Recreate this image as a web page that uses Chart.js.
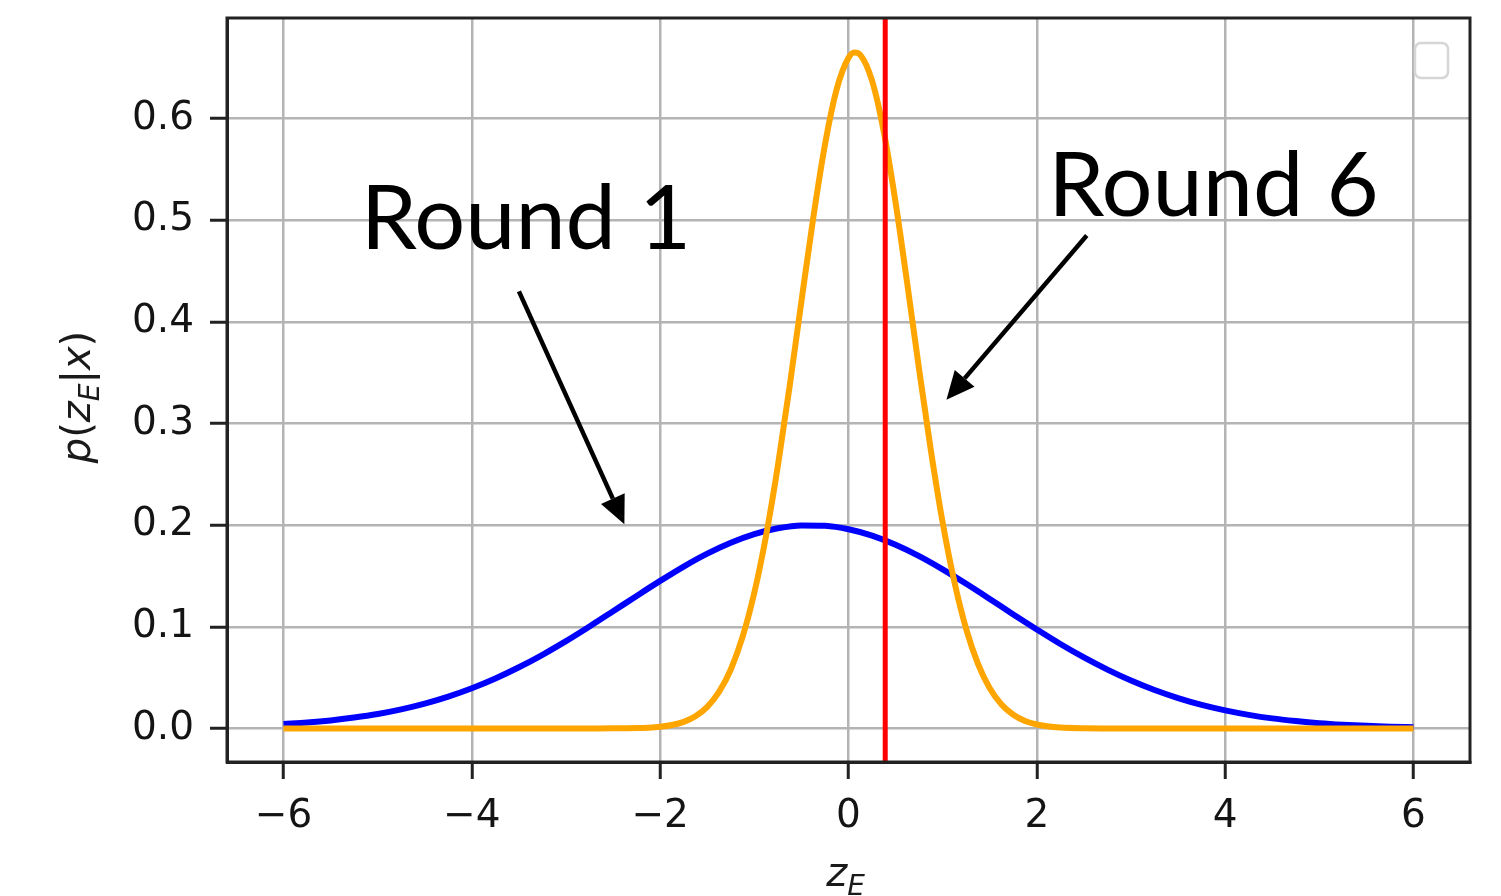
<!DOCTYPE html>
<html>
<head>
<meta charset="utf-8">
<script src="https://cdn.jsdelivr.net/npm/chart.js@4.4.0/dist/chart.umd.min.js"></script>
<style>
  html, body { margin: 0; padding: 0; background: #fff; }
  #wrap { width: 1501px; height: 896px; }
</style>
</head>
<body>
<div id="wrap"><canvas id="chart" width="1501" height="896"></canvas></div>
<script>
// Datos

// Round 1 (azul), paso 0.25
var zRound1 = [-6, -5.75, -5.5, -5.25, -5, -4.75, -4.5, -4.25, -4, -3.75, -3.5, -3.25, -3, -2.75, -2.5, -2.25,
  -2, -1.75, -1.5, -1.25, -1, -0.75, -0.5, -0.25, 0, 0.25, 0.5, 0.75, 1, 1.25, 1.5, 1.75,
  2, 2.25, 2.5, 2.75, 3, 3.25, 3.5, 3.75, 4, 4.25, 4.5, 4.75, 5, 5.25, 5.5, 5.75, 6];
var pRound1 = [0.0045, 0.0059, 0.0079, 0.0107, 0.0142, 0.0188, 0.0245, 0.0314, 0.0396, 0.0492, 0.0602, 0.0725, 0.0859, 0.1003, 0.1153, 0.1304,
  0.1452, 0.1593, 0.1720, 0.1827, 0.1912, 0.1970, 0.1998, 0.1994, 0.1960, 0.1897, 0.1807, 0.1695, 0.1565, 0.1423, 0.1274, 0.1122,
  0.0974, 0.0831, 0.0699, 0.0579, 0.0471, 0.0378, 0.0299, 0.0232, 0.0178, 0.0134, 0.0099, 0.0073, 0.0052, 0.0037, 0.0026, 0.0018, 0.0012];

// Round 6 (naranja), mas denso cerca del pico
var zRound6 = [-6, -5, -4, -3, -2.75, -2.5, -2.25, -2.125, -2, -1.875, -1.75, -1.625, -1.5, -1.375, -1.25, -1.125,
  -1, -0.875, -0.75, -0.625, -0.5, -0.375, -0.25, -0.125, 0, 0.0625, 0.125, 0.25, 0.375, 0.5, 0.625, 0.75, 0.875,
  1, 1.125, 1.25, 1.375, 1.5, 1.625, 1.75, 1.875, 2, 2.125, 2.25, 2.5, 2.75, 3, 4, 5, 6];
var pRound6 = [0, 0, 0, 0, 0.00003, 0.0001, 0.0004, 0.0008, 0.0017, 0.0034, 0.0065, 0.012, 0.0212, 0.0359, 0.058, 0.090,
  0.1336, 0.1899, 0.2584, 0.3367, 0.4202, 0.5019, 0.5743, 0.629, 0.6598, 0.665, 0.6627, 0.6373, 0.5869, 0.5174, 0.4369, 0.3532, 0.2734,
  0.2026, 0.1439, 0.0977, 0.0636, 0.0396, 0.0236, 0.0135, 0.0074, 0.0039, 0.0019, 0.0009, 0.0002, 0.00004, 0, 0, 0, 0];

// linea roja vertical
var zMarker = 0.39;

var xTicks = [-6, -4, -2, 0, 2, 4, 6];
var yTicks = [0, 0.1, 0.2, 0.3, 0.4, 0.5, 0.6];
var xLimits = [-6.6, 6.6];
var yLimits = [-0.033, 0.699];

// Anotaciones (coordenadas de datos)
var notas = [
  { text: 'Round 1', at: [-5.18, 0.472], from: [-3.50, 0.430], to: [-2.38, 0.201] },
  { text: 'Round 6', at: [2.12, 0.504], from: [2.53, 0.485], to: [1.04, 0.3235] }
];

function pares(xs, ys) {
  return xs.map(function(x, i) { return { x: x, y: ys[i] }; });
}

function menos(v) {
  return v < 0 ? '\u2212' + Math.abs(v) : String(v);
}

// dibuja texto con segmentos (italica, subindice)
function textoMath(ctx, partes, size) {
  var total = 0;
  partes.forEach(function(p) {
    ctx.font = (p.it ? 'italic ' : '') + (p.sub ? size * 0.7 : size) + 'px "DejaVu Sans"';
    p.w = ctx.measureText(p.t).width;
    total += p.w;
  });
  var x = -total / 2;
  partes.forEach(function(p) {
    ctx.font = (p.it ? 'italic ' : '') + (p.sub ? size * 0.7 : size) + 'px "DejaVu Sans"';
    ctx.fillText(p.t, x, p.sub ? size * 0.22 : 0);
    x += p.w;
  });
}

var extras = {
  id: 'extras',
  afterDraw: function(chart) {
    var ctx = chart.ctx;
    var area = chart.chartArea;
    var sx = chart.scales.x, sy = chart.scales.y;

    // marco completo
    ctx.save();
    ctx.strokeStyle = '#222';
    ctx.lineWidth = 3;
    ctx.strokeRect(area.left, area.top, area.right - area.left, area.bottom - area.top);

    // caja de leyenda vacia
    ctx.strokeStyle = '#d6d6d6';
    ctx.fillStyle = 'rgba(255,255,255,0.8)';
    ctx.lineWidth = 2.5;
    ctx.beginPath();
    ctx.roundRect(area.right - 55, area.top + 25, 33, 35, 6);
    ctx.fill();
    ctx.stroke();

    // anotaciones
    ctx.fillStyle = '#000';
    ctx.strokeStyle = '#000';
    notas.forEach(function(n) {
      ctx.font = '90px Lato';
      ctx.textAlign = 'left';
      ctx.textBaseline = 'alphabetic';
      ctx.fillText(n.text, sx.getPixelForValue(n.at[0]), sy.getPixelForValue(n.at[1]));

      var x0 = sx.getPixelForValue(n.from[0]), y0 = sy.getPixelForValue(n.from[1]);
      var x1 = sx.getPixelForValue(n.to[0]), y1 = sy.getPixelForValue(n.to[1]);
      var ang = Math.atan2(y1 - y0, x1 - x0);
      var largo = 28, ancho = 13;
      var bx = x1 - largo * Math.cos(ang), by = y1 - largo * Math.sin(ang);
      ctx.lineWidth = 4.5;
      ctx.beginPath();
      ctx.moveTo(x0, y0);
      ctx.lineTo(bx, by);
      ctx.stroke();
      ctx.beginPath();
      ctx.moveTo(x1, y1);
      ctx.lineTo(bx + ancho * Math.sin(ang), by - ancho * Math.cos(ang));
      ctx.lineTo(bx - ancho * Math.sin(ang), by + ancho * Math.cos(ang));
      ctx.closePath();
      ctx.fill();
    });

    // titulos de ejes
    ctx.fillStyle = '#1a1a1a';
    ctx.textAlign = 'left';
    ctx.textBaseline = 'alphabetic';
    ctx.save();
    ctx.translate(90, (area.top + area.bottom) / 2 + 7);
    ctx.rotate(-Math.PI / 2);
    textoMath(ctx, [
      { t: 'p', it: true }, { t: '(' }, { t: 'z', it: true }, { t: 'E', it: true, sub: true },
      { t: '|' }, { t: 'x', it: true }, { t: ')' }
    ], 40);
    ctx.restore();

    ctx.save();
    ctx.translate((area.left + area.right) / 2 - 3, 886);
    textoMath(ctx, [{ t: 'z', it: true }, { t: 'E', it: true, sub: true }], 40);
    ctx.restore();
    ctx.restore();
  }
};

var fuenteTicks = { family: 'DejaVu Sans', size: 39 };

var ctx = document.getElementById('chart').getContext('2d');
var chart = new Chart(ctx, {
  type: 'line',
  data: {
    datasets: [
      {
        data: pares(zRound1, pRound1),
        borderColor: '#0000ff',
        borderWidth: 6,
        pointRadius: 0,
        cubicInterpolationMode: 'monotone',
        order: 3
      },
      {
        data: pares(zRound6, pRound6),
        borderColor: '#ffa500',
        borderWidth: 6,
        pointRadius: 0,
        cubicInterpolationMode: 'monotone',
        order: 2
      },
      {
        data: [{ x: zMarker, y: yLimits[0] }, { x: zMarker, y: yLimits[1] }],
        borderColor: '#ff0000',
        borderWidth: 5,
        pointRadius: 0,
        order: 1
      }
    ]
  },
  options: {
    responsive: false,
    animation: false,
    devicePixelRatio: 1,
    layout: { padding: { left: 0, right: 31, top: 18, bottom: 0 } },
    plugins: {
      legend: { display: false },
      tooltip: { enabled: false }
    },
    scales: {
      x: {
        type: 'linear',
        min: xLimits[0],
        max: xLimits[1],
        afterBuildTicks: function(s) { s.ticks = xTicks.map(function(v) { return { value: v }; }); },
        afterFit: function(s) { s.height = 134; s.paddingLeft = 0; s.paddingRight = 0; },
        ticks: {
          font: fuenteTicks,
          color: '#141414',
          padding: 14,
          maxRotation: 0,
          callback: function(v) { return menos(v); }
        },
        grid: { color: '#b4b4b4', lineWidth: 2.5, tickColor: '#222', tickWidth: 3, tickLength: 17 },
        border: { color: '#222', width: 3 }
      },
      y: {
        type: 'linear',
        min: yLimits[0],
        max: yLimits[1],
        afterBuildTicks: function(s) { s.ticks = yTicks.map(function(v) { return { value: v }; }); },
        afterFit: function(s) { s.width = 227; s.paddingTop = 0; s.paddingBottom = 0; },
        ticks: {
          font: fuenteTicks,
          color: '#141414',
          padding: 16,
          callback: function(v) { return v.toFixed(1); }
        },
        grid: { color: '#b4b4b4', lineWidth: 2.5, tickColor: '#222', tickWidth: 3, tickLength: 17 },
        border: { color: '#222', width: 3 }
      }
    }
  },
  plugins: [extras]
});
</script>
</body>
</html>
